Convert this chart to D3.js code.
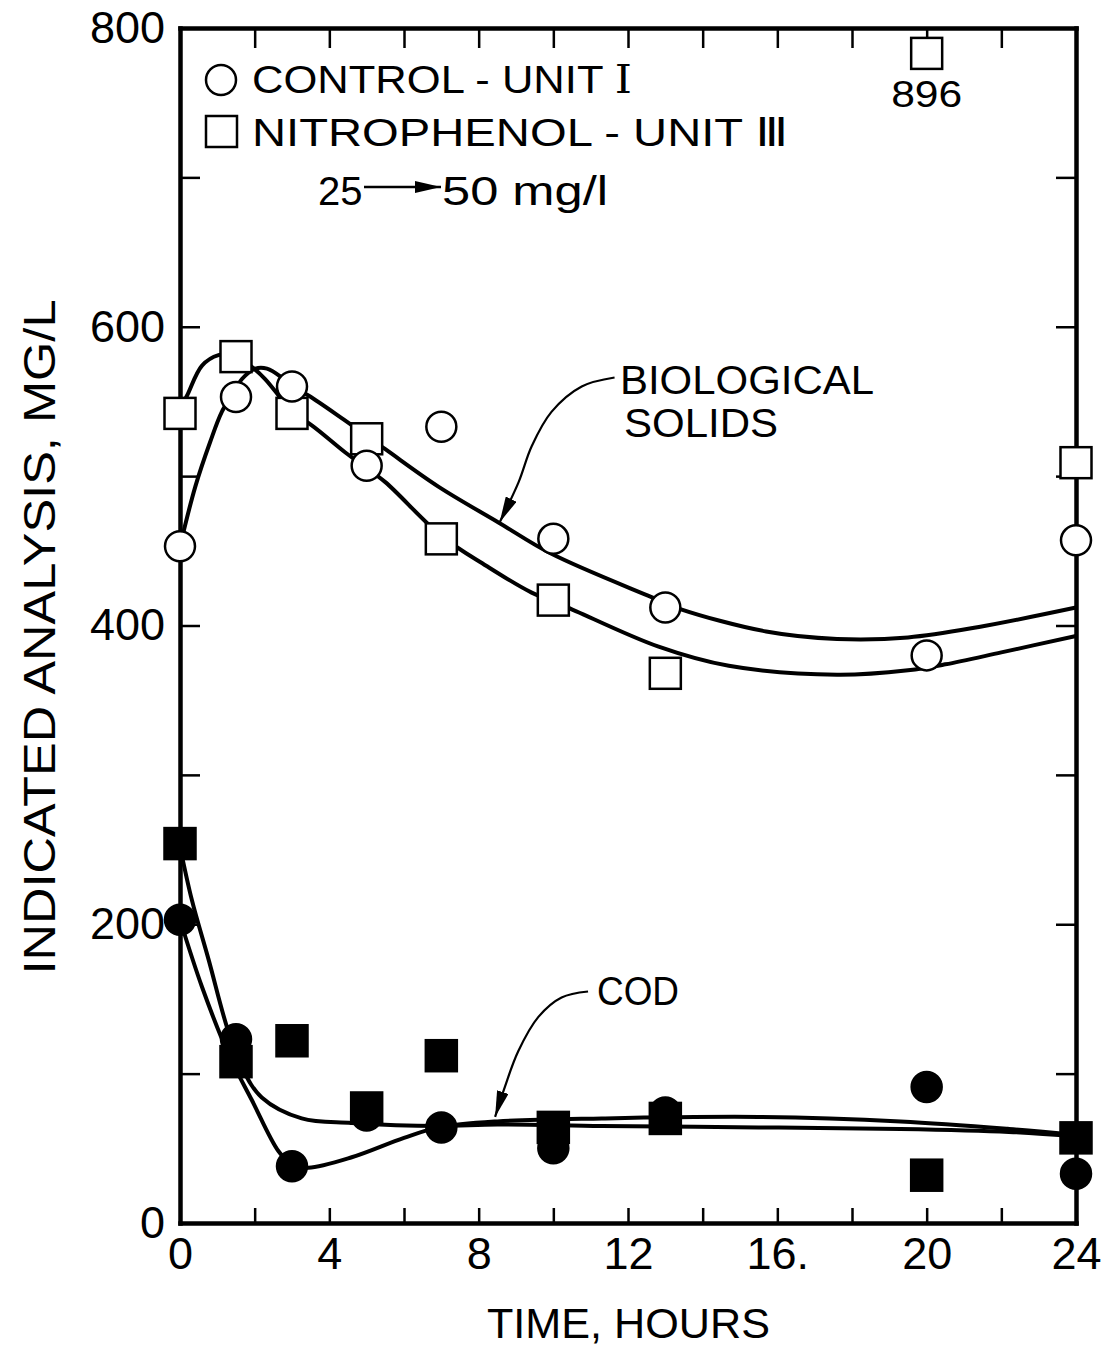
<!DOCTYPE html>
<html>
<head>
<meta charset="utf-8">
<script src="https://cdn.jsdelivr.net/npm/d3@7"></script>
<style>
  body { margin: 0; background: #fff; }
  text { font-family: "Liberation Sans", Arial, sans-serif; fill: #000; }
</style>
</head>
<body>
<svg id="grafico"></svg>
<script>
// measured points, hours vs mg/l
const hours = [0, 1.5, 3, 5, 7, 10, 13, 20, 24];
const controlSolids = [453, 553, 560, 507, 533, 458, 412, 380, 457];
const nitroSolids = [542, 580, 542, 525, 458, 417, 368, 896, 509];
const controlCOD = [203, 123, 38, 72, 64, 50, 74, 91, 33];
const nitroCOD = [254, 108, 122, 77, 112, 64, 70, 32, 57];

// the 896 point is drawn against the top frame
const offScaleAt = 783;

// hand fitted curves [hour, mg/l]
const controlSolidsFit = [[0,453],[0.41,493],[0.81,523],[1.12,543],[1.39,554],[1.66,565],[2.02,572],[2.33,572],[2.73,566],[3.0,560],[3.44,554],[4.38,538],[5.5,518],[6.92,493],[8.53,469],[9.95,448],[12.63,419],[13.4,411],[15.7,396],[17.6,391],[19.5,392],[21.4,399],[24,412]];
const nitroSolidsFit = [[0,545],[0.19,554],[0.59,574],[1.03,581],[1.43,581],[1.93,573],[2.28,565],[2.64,554],[2.98,543],[3.53,534],[4.42,516],[4.91,507],[5.5,496],[7.0,460],[8.2,440],[9.42,422],[10.3,413],[12.8,386],[14.7,373],[17.6,367],[19.5,370],[20.5,374],[22,382],[24,393]];
const controlCODFit = [[0,203],[0.59,158],[1.3,113],[1.93,82],[2.64,48],[3.0,39],[3.44,37],[4.6,44],[6.0,57],[6.93,64],[8.5,68],[11.3,70],[15.5,71],[19.3,68],[22.2,63],[24,59]];
const nitroCODFit = [[0,252],[0.32,216],[0.77,176],[1.26,131],[1.66,104],[2.19,84],[3.26,70],[4.6,67],[6.92,65],[8.5,66],[11.3,65],[15.5,64],[19.3,63],[22.2,61],[24,58]];

// leader arrows for the curve names
const solidsLeader = [[11.64,566],[10.76,560],[9.95,543],[9.42,520],[9.07,496],[8.56,469]];
const codLeader = [[10.93,155],[10.22,151],[9.6,138],[9.06,115],[8.7,91],[8.44,71]];

const xTicks = d3.range(0, 25, 2);
const xLabels = ["0", "4", "8", "12", "16.", "20", "24"];
const yTicks = d3.range(0, 801, 100);
const yLabels = ["0", "200", "400", "600", "800"];

let largura = 1106, altura = 1351;
let svg = d3.select('#grafico')
            .attr('width', largura)
            .attr('height', altura);

let fnX = d3.scaleLinear().domain([0, 24]).range([180, 1076]);
let fnY = d3.scaleLinear().domain([0, 800]).range([1223, 28]);

// arrow heads
svg.append('defs').append('marker')
   .attr('id', 'ponta')
   .attr('viewBox', '0 0 26 12')
   .attr('refX', 26).attr('refY', 6)
   .attr('markerWidth', 26).attr('markerHeight', 12)
   .attr('markerUnits', 'userSpaceOnUse')
   .attr('orient', 'auto')
   .append('path')
   .attr('d', 'M0,0 L26,6 L0,12 Z')
   .attr('fill', '#000');

// frame + ticks
function estilo(g) {
    g.select('.domain').attr('stroke-width', 4.5).attr('stroke-linecap', 'square');
    g.selectAll('.tick line').attr('stroke-width', 2.5);
    g.selectAll('.tick text').attr('font-size', 45).attr('fill', '#000')
     .attr('font-family', '"Liberation Sans", Arial, sans-serif');
}

svg.append('g')
   .attr('transform', 'translate(0,' + fnY(0) + ')')
   .call(d3.axisBottom(fnX).tickValues(xTicks).tickSize(-15).tickSizeOuter(0).tickPadding(14)
          .tickFormat(d => d % 4 === 0 ? xLabels[d / 4] : ''))
   .call(estilo);

svg.append('g')
   .attr('transform', 'translate(0,' + fnY(800) + ')')
   .call(d3.axisTop(fnX).tickValues(xTicks).tickSize(-20).tickSizeOuter(0).tickFormat(''))
   .call(estilo);

svg.append('g')
   .attr('transform', 'translate(' + fnX(0) + ',0)')
   .call(d3.axisLeft(fnY).tickValues(yTicks).tickSize(-20).tickSizeOuter(0).tickPadding(15)
          .tickFormat(d => d % 200 === 0 ? yLabels[d / 200] : ''))
   .call(estilo);

svg.append('g')
   .attr('transform', 'translate(' + fnX(24) + ',0)')
   .call(d3.axisRight(fnY).tickValues(yTicks).tickSize(-20).tickSizeOuter(0).tickFormat(''))
   .call(estilo);

// axis titles
svg.append('text')
   .attr('x', 487).attr('y', 1338)
   .attr('font-size', 43)
   .attr('textLength', 283).attr('lengthAdjust', 'spacingAndGlyphs')
   .text('TIME, HOURS');

svg.append('text')
   .attr('transform', 'translate(55,637) rotate(-90)')
   .attr('text-anchor', 'middle')
   .attr('font-size', 44)
   .attr('textLength', 675).attr('lengthAdjust', 'spacingAndGlyphs')
   .text('INDICATED  ANALYSIS,  MG/L');

// fitted curves
let linha = d3.line()
              .x(d => fnX(d[0]))
              .y(d => fnY(d[1]))
              .curve(d3.curveCatmullRom.alpha(0.5));

let plotagem = svg.append('g');

[controlSolidsFit, nitroSolidsFit, controlCODFit, nitroCODFit].forEach(c => {
    plotagem.append('path')
            .attr('d', linha(c))
            .attr('fill', 'none')
            .attr('stroke', '#000')
            .attr('stroke-width', 4);
});

[solidsLeader, codLeader].forEach(c => {
    plotagem.append('path')
            .attr('d', linha(c))
            .attr('fill', 'none')
            .attr('stroke', '#000')
            .attr('stroke-width', 2.2)
            .attr('marker-end', 'url(#ponta)');
});

// markers
let pontos = (vals) => hours.map((h, i) => ({h: h, v: vals[i]}));
let lado = 31, raio = 15;

function quadrados(vals, cheio) {
    plotagem.selectAll(null)
            .data(pontos(vals))
            .enter()
            .append('rect')
            .attr('x', d => fnX(d.h) - lado / 2)
            .attr('y', d => fnY(Math.min(d.v, offScaleAt)) - lado / 2)
            .attr('width', lado)
            .attr('height', lado)
            .attr('fill', cheio ? '#000' : '#fff')
            .attr('stroke', '#000')
            .attr('stroke-width', 2.5);
}

function circulos(vals, cheio) {
    plotagem.selectAll(null)
            .data(pontos(vals))
            .enter()
            .append('circle')
            .attr('cx', d => fnX(d.h))
            .attr('cy', d => fnY(d.v))
            .attr('r', raio)
            .attr('fill', cheio ? '#000' : '#fff')
            .attr('stroke', '#000')
            .attr('stroke-width', 2.5);
}

quadrados(nitroSolids, false);
circulos(controlSolids, false);
quadrados(nitroCOD, true);
circulos(controlCOD, true);

// value of the off-scale point
let fora = pontos(nitroSolids).filter(d => d.v > offScaleAt);
svg.selectAll('.fora')
   .data(fora)
   .enter()
   .append('text')
   .classed('fora', true)
   .attr('x', d => fnX(d.h))
   .attr('y', 107)
   .attr('text-anchor', 'middle')
   .attr('font-size', 37)
   .attr('textLength', 71).attr('lengthAdjust', 'spacingAndGlyphs')
   .text(d => d.v);

// legend
svg.append('circle')
   .attr('cx', 221).attr('cy', 80).attr('r', raio)
   .attr('fill', '#fff').attr('stroke', '#000').attr('stroke-width', 2.5);
svg.append('rect')
   .attr('x', 206).attr('y', 116).attr('width', lado).attr('height', lado)
   .attr('fill', '#fff').attr('stroke', '#000').attr('stroke-width', 2.5);

let t1 = svg.append('text')
            .attr('x', 252).attr('y', 93)
            .attr('font-size', 39)
            .attr('textLength', 380).attr('lengthAdjust', 'spacingAndGlyphs');
t1.append('tspan').text('CONTROL - UNIT ');
t1.append('tspan').attr('font-family', '"DejaVu Serif", serif').text('I');

let t2 = svg.append('text')
            .attr('x', 252).attr('y', 146)
            .attr('font-size', 39)
            .attr('textLength', 536).attr('lengthAdjust', 'spacingAndGlyphs');
t2.append('tspan').text('NITROPHENOL - UNIT ');
t2.append('tspan').attr('font-family', '"DejaVu Sans", sans-serif').text('\u2162');

svg.append('text')
   .attr('x', 318).attr('y', 205)
   .attr('font-size', 40)
   .text('25');
svg.append('line')
   .attr('x1', 364).attr('x2', 441)
   .attr('y1', 187).attr('y2', 187)
   .attr('stroke', '#000').attr('stroke-width', 2.5)
   .attr('marker-end', 'url(#ponta)');
svg.append('text')
   .attr('x', 442).attr('y', 205)
   .attr('font-size', 40)
   .attr('textLength', 166).attr('lengthAdjust', 'spacingAndGlyphs')
   .text('50 mg/l');

// curve names
svg.append('text')
   .attr('x', 620).attr('y', 394)
   .attr('font-size', 41)
   .attr('textLength', 254).attr('lengthAdjust', 'spacingAndGlyphs')
   .text('BIOLOGICAL');
svg.append('text')
   .attr('x', 624).attr('y', 437)
   .attr('font-size', 41)
   .attr('textLength', 154).attr('lengthAdjust', 'spacingAndGlyphs')
   .text('SOLIDS');
svg.append('text')
   .attr('x', 597).attr('y', 1005)
   .attr('font-size', 41)
   .attr('textLength', 82).attr('lengthAdjust', 'spacingAndGlyphs')
   .text('COD');
</script>
</body>
</html>
